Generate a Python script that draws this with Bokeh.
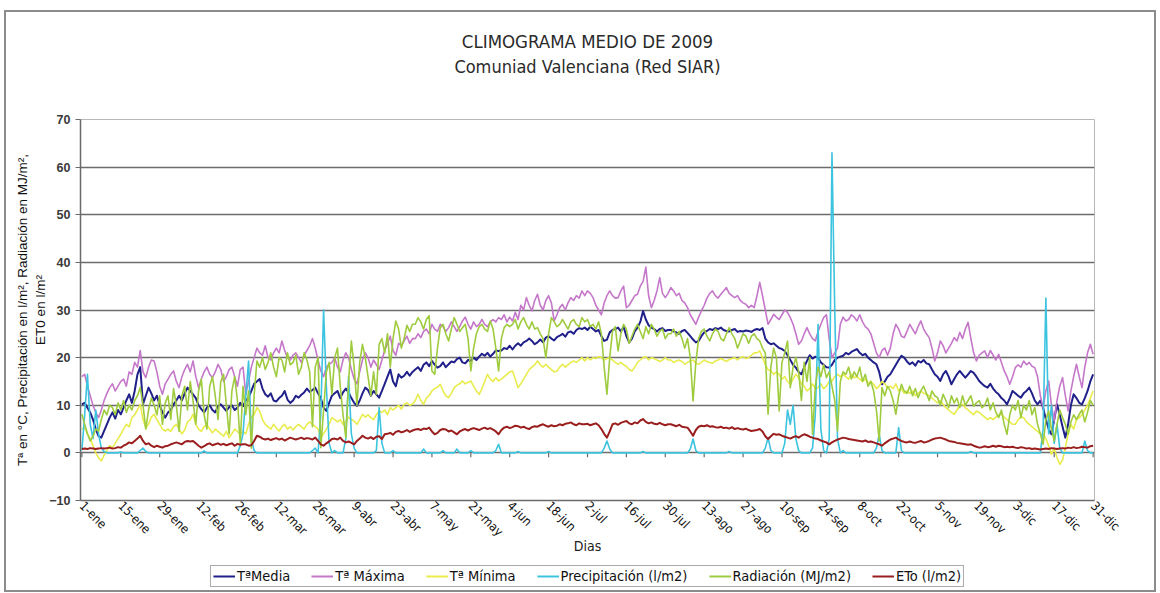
import math
from bokeh.plotting import figure
from bokeh.layouts import column
from bokeh.models import Range1d, FixedTicker, Legend, LegendItem, Title
from bokeh.embed import file_html
from bokeh.resources import INLINE

# ---------------- categories ----------------
month_names = ["ene", "feb", "mar", "abr", "may", "jun", "jul", "ago", "sep", "oct", "nov", "dic"]
month_days = [31, 28, 31, 30, 31, 30, 31, 31, 30, 31, 30, 31]
days = [f"{d}-{m}" for m, n in zip(month_names, month_days) for d in range(1, n + 1)]
tick_labels = ["1-ene", "15-ene", "29-ene", "12-feb", "26-feb", "12-mar", "26-mar", "9-abr", "23-abr",
               "7-may", "21-may", "4-jun", "18-jun", "2-jul", "16-jul", "30-jul", "13-ago", "27-ago",
               "10-sep", "24-sep", "8-oct", "22-oct", "5-nov", "19-nov", "3-dic", "17-dic", "31-dic"]

# ---------------- series (daily values) ----------------
t_media = (
    [10.2, 10.5, 9.5, 8.5, 7, 5, 3.5, 3.2, 4.6, 6, 7.4, 8.5, 7.2, 9, 8.1, 9.5, 11, 12.3, 10.5, 13, 16.5, 18, 10.2, 12, 13.7, 12.5, 11, 12, 10, 8.5, 7.4]
    + [8.5, 9, 10.2, 11, 12, 11, 12.5, 13.7, 13, 12.3, 11.5, 10, 9.2, 8.5, 9.5, 10, 9, 8.5, 9.8, 10.2, 9.5, 8.8, 9.6, 10, 9, 9.5, 10.5, 9.8]
    + [11, 11.6, 13, 14.5, 15, 15.5, 13.5, 12.3, 11.8, 12.5, 11, 10.8, 11.5, 12, 13, 11.2, 10.5, 11, 12, 11.6, 12.2, 12.7, 13.5, 12.8, 13.2, 13.7, 12.5, 11.5, 9.5, 8.8, 10.5]
    + [12, 12.5, 13, 11.5, 12.7, 13.5, 12.7, 11.5, 10.5, 9.9, 11, 12.5, 13.7, 13.2, 12, 13, 12.3, 11.6, 13, 14.5, 16, 17.5, 15, 14, 16.5, 15.8, 16.2, 17, 16.2, 17]
    + [17.5, 18, 17.2, 18.5, 19, 18.2, 19.3, 18.5, 17.9, 18.2, 19, 18, 18.6, 19.2, 19, 19.7, 20, 19, 18.8, 19.5, 19.3, 20, 19.5, 20.2, 20.8, 20.4, 21, 20.2, 20.8, 21.5, 21.4]
    + [21.5, 22, 21.8, 22.5, 21.7, 22.5, 23, 22.5, 23.2, 23.5, 24, 23.5, 22.8, 23.2, 23.8, 23.2, 24.2, 24.5, 24, 23.6, 24.3, 24.6, 25, 24.4, 25.3, 25.5, 25, 25.8, 26.2, 26]
    + [26.3, 25.8, 26.5, 26, 25.5, 25.8, 24.5, 23.5, 23.8, 25.3, 25.8, 26, 26.3, 25.5, 26.5, 24.5, 23.2, 24, 25.5, 26.3, 27.5, 29.8, 28, 26.8, 26.3, 26, 25.5, 26, 26.2, 25.6, 25.8]
    + [25.8, 25.5, 25.3, 25, 25.6, 25.8, 25.2, 24.5, 23.8, 23.2, 23.5, 24.5, 25.3, 25.6, 26, 25.8, 26.2, 26, 26.3, 25.8, 25.6, 25.5, 25.8, 26, 25.4, 25.6, 25.5, 25.7, 25.6, 25.4, 25.8]
    + [26, 25.8, 26.2, 24, 23.2, 22.8, 23, 22.5, 22, 21.8, 21.4, 20.5, 19.5, 18.5, 17.9, 17, 16.5, 18, 19.3, 20.5, 19.8, 20.2, 20, 19, 18.5, 18, 17.9, 18.5, 19.5, 20]
    + [20.2, 20.4, 21, 20.7, 21.2, 21.5, 21.8, 21, 20.5, 20.8, 20, 19.5, 19, 18.6, 17, 14.4, 15, 16, 16.5, 17.5, 18.5, 19.5, 20.4, 20, 19.2, 18.6, 19, 18.3, 19.3, 19, 19.5]
    + [18.8, 18.6, 17.5, 16.5, 16, 15.1, 16.5, 17.2, 16, 14.4, 15.5, 16.5, 17.2, 16.5, 15.8, 16.5, 17.2, 16.8, 16, 15.1, 14.5, 14, 13.7, 14.5, 13.5, 12.8, 12.3, 11.5, 11, 10.2]
    + [11.5, 13, 12.5, 12, 11.6, 12.5, 13, 13.7, 12.5, 11, 10.2, 11, 9.5, 7, 5, 3.9, 7, 10.2, 8, 5.5, 3.2, 6, 10, 12.3, 11.5, 10.5, 10.2, 11.5, 13, 15, 16.5]
)

t_maxima = (
    [16, 16.5, 14, 12, 10, 8.5, 7.4, 9, 11, 12.5, 13.7, 14.5, 13, 14, 15, 15.5, 14, 17, 16.5, 19, 18, 21.5, 17, 15.8, 18, 19.5, 19.3, 17, 14, 12.3, 14.5]
    + [15.5, 16.5, 17.2, 15, 13.7, 16, 17.5, 18.6, 17, 19.3, 16, 13.7, 15.5, 17, 18, 16.5, 15.8, 17, 18.6, 17.5, 15, 16, 17.5, 18, 16, 14, 17.5, 18]
    + [12.3, 15, 18, 20, 22, 21, 20.5, 22.5, 20, 19.5, 21, 22, 21, 23.5, 21.5, 20, 19.5, 20.5, 21, 20, 19, 20.5, 21.5, 22.5, 24, 22, 19.5, 17.2, 16, 18, 18.6]
    + [19, 20, 18, 17, 19.5, 21, 20, 17.5, 15.5, 14.5, 17, 19.5, 21, 20, 18, 19.5, 18.5, 17.5, 19.5, 21.5, 23, 24.5, 21.5, 20.5, 23, 22.5, 23.5, 24.5, 23, 24]
    + [24, 25, 24.2, 25.5, 26, 25, 27, 26, 25.5, 27, 26.5, 25.5, 26.3, 27.5, 26.5, 25.5, 26.5, 27.7, 28.5, 27, 26, 27.5, 26.5, 27, 28, 27, 26.5, 27.5, 28, 27.5, 28.4]
    + [28, 29, 27.5, 28.5, 27.7, 29.5, 28, 31, 30, 32.6, 31, 29.8, 32, 33.3, 31, 30, 32, 33, 31.5, 27.7, 29, 30.5, 31.2, 30, 31.5, 32.6, 32, 33, 32.5, 34]
    + [33, 34, 33.5, 32.6, 31, 30, 29, 31.5, 33, 34, 33, 32.5, 32.6, 34, 35, 30.5, 31, 32, 33, 33.3, 35, 36, 39, 33, 30.5, 32, 34, 36.8, 33.5, 32.6, 33.5]
    + [34.7, 34, 33, 33.5, 32, 31.5, 30.5, 29, 28, 27, 28.5, 29.8, 31, 32.5, 33.5, 34, 33, 32.5, 33.3, 34, 34.7, 33.5, 33, 32.6, 33, 32, 31.5, 31.2, 30.5, 31, 30.5]
    + [33, 35.8, 33, 30, 27, 28, 29.1, 28.5, 28, 29, 30, 29.5, 28.4, 27, 25, 22.8, 23.5, 25, 26.3, 25, 24, 23.5, 25.5, 27, 28.4, 29, 24, 20, 21, 22]
    + [27, 28.5, 27.7, 28, 29, 28.5, 27.7, 29, 27.5, 26.5, 26, 25, 23, 21, 20, 21.5, 22, 20.5, 22, 25, 27, 26, 24.5, 24.2, 25.5, 27, 26, 25, 26.5, 27.7, 26]
    + [25, 24.2, 22, 19.3, 21, 23.5, 22.5, 21, 22, 23, 24.2, 23.5, 25.3, 24, 26, 27.4, 24, 21, 19.3, 20.5, 21, 21.4, 20, 21.5, 20.5, 19.5, 20.7, 19, 17.2, 16]
    + [14.4, 16, 17.9, 18.5, 18, 19.3, 18.5, 19, 18.2, 17.9, 16, 12, 9.5, 13, 15.1, 10, 6.7, 11, 14, 15.8, 12, 8.8, 13, 16, 18.6, 16, 13.7, 18, 21, 22.8, 20.7]
)

t_minima = (
    [5, 5.3, 4, 3, 1.5, 0, -1, -1.7, -0.5, 0.5, 1.5, 1.1, 2, 3, 3.9, 5, 6, 5.5, 7.4, 8, 9, 10.2, 7, 5.3, 6, 7.5, 8.1, 7, 6, 5, 4.6]
    + [5, 4.5, 5.5, 6, 5, 4, 4.8, 6.5, 7, 8.1, 6, 5, 4.5, 5.5, 6, 5, 4.2, 5, 4.5, 4, 3.5, 4.5, 3.2, 4, 5, 4.5, 3.9, 4.5]
    + [4, 6, 7.5, 8, 9.5, 8.8, 7, 6, 5.5, 5, 6, 5.2, 4.6, 5.5, 6, 5, 5.5, 4.8, 5.5, 6, 5.5, 5, 6, 6.5, 6, 5.5, 5, 3.2, 4, 5, 6]
    + [7.4, 7, 6.5, 7, 6, 6.5, 7.5, 7, 6.7, 6, 7, 8.1, 7.5, 8, 7.4, 7, 8, 8.8, 8.5, 9, 8, 9.5, 9, 9.5, 10, 9.2, 10.2, 10.5, 10, 10.2]
    + [11, 12.3, 11, 10.2, 11.5, 12, 13, 13.5, 13.8, 14.4, 13, 12, 11.6, 12.5, 13.7, 14.2, 14.5, 15.1, 14.5, 14.8, 15.1, 14, 13, 12.3, 13.5, 15, 16.5, 15.5, 15, 15.8, 15.1]
    + [15.5, 16, 16.5, 17, 17.2, 15.5, 13.7, 14.5, 15.5, 16.5, 17.5, 18, 18.5, 19.3, 18.5, 18, 18.6, 18, 17.5, 17, 17.2, 18, 18.6, 18, 18.5, 19, 19.3, 19, 19.5, 20]
    + [19.3, 20, 19.5, 20, 19.8, 20.2, 20, 19.5, 19.8, 20, 19.5, 19, 18.6, 19, 18.5, 18.2, 17.5, 17.2, 18, 19, 19.5, 20, 20.2, 19.5, 20, 19.8, 19.5, 19.2, 19.5, 20, 19.5]
    + [19.5, 19, 19.3, 19.5, 19.2, 18.6, 19, 19.3, 19.5, 18.8, 18.6, 19, 19.5, 19.2, 19, 18.8, 19.3, 19.5, 19.8, 19.5, 19.2, 19.6, 19.8, 20, 19.5, 20, 20.2, 19.8, 20, 20.5, 21]
    + [21, 21.4, 20, 18.5, 17.5, 17.2, 16.5, 17, 16.5, 15.5, 16, 15, 14.4, 15.5, 16.5, 15.8, 14.5, 14, 13, 13.5, 14.5, 13.5, 13.7, 14.5, 13.5, 14, 15, 15.1, 16, 16.5]
    + [16, 16.5, 16, 15.5, 16.5, 15.8, 16, 15.5, 15, 15.5, 14.5, 15, 14.4, 13.5, 14, 15, 14.5, 13.7, 14, 13.5, 14.5, 13, 13.5, 12.5, 13, 12.5, 13, 12, 12.5, 13, 12.5]
    + [12.3, 12, 11.5, 11, 10.5, 11, 10.2, 9.5, 9, 8.5, 8.1, 9, 10, 10.2, 9.5, 9, 8.5, 8, 8.8, 8.5, 8, 7.5, 7, 7.4, 7, 7.5, 8, 8.1, 7.5, 7]
    + [6.5, 6, 6, 7, 7.5, 7.4, 6.5, 6, 5.5, 5, 4.5, 4, 3.9, 3, 1.5, -0.3, 1, -1, -2.4, -1.5, 1, 4, 6, 5, 7, 7.4, 8, 9, 10, 11.5, 13]
)

precipitacion = (
    [0.5, 8, 16.5, 6, 3, 9, 4, 1, 0.3, 0, 0, 0, 0, 0, 0.2, 0, 0, 0, 0, 0, 0, 0.5, 1, 0.3, 0, 0, 0, 0, 0, 0, 0]
    + [0, 0, 0, 0, 0, 0, 0, 0, 0, 0, 0, 0, 0, 0.4, 0, 0, 0, 0, 0, 0, 0, 0, 0, 0, 0, 0, 1.5, 4]
    + [12, 19.3, 3, 0.5, 0, 0, 0, 0, 0, 0, 0, 0, 0, 0, 0, 0, 0, 0, 0, 0, 0, 0, 0, 0, 0.5, 1, 0, 8, 30, 14, 2]
    + [0, 0.5, 0, 0, 0, 3, 16, 4, 1, 0, 0, 0, 0, 0, 0, 0, 0.5, 9.5, 2, 0, 0, 0, 0.5, 0, 0, 0, 0, 0, 0, 0]
    + [0, 0, 0, 0.8, 0, 0, 0, 0, 0, 0, 0.5, 0, 0, 0, 0, 0.8, 0, 0, 0, 0, 0.5, 0, 0, 0, 0, 0, 0, 0, 0, 0.5, 1.8]
    + [0, 0, 0, 0, 0, 0, 0.3, 0, 0, 0, 0, 0, 0, 0, 0, 0, 0, 0.3, 0, 0, 0, 0, 0, 0, 0, 0, 0, 0, 0, 0]
    + [0, 0, 0, 0, 0, 0, 0, 1, 2.5, 0.8, 0, 0, 0, 0, 0, 0, 0, 0, 0, 0, 0, 0.3, 0, 0, 0, 0, 0, 0, 0, 0, 0]
    + [0, 0, 0, 0, 0, 0, 0, 0.8, 2.9, 0.5, 0, 0, 0, 0, 0, 0, 0, 0, 0, 0, 0, 0.3, 0, 0, 0, 0, 0, 0, 0, 0, 0]
    + [0, 0, 0, 1, 3.2, 0.5, 0, 0, 0, 0, 2, 9, 6, 10, 3, 0.5, 0, 0, 0, 0, 1, 8, 27, 5, 0.5, 0, 3, 63, 30, 3]
    + [0, 0.5, 0, 0, 0, 0, 0, 0, 0, 0, 0, 0, 0, 1, 3.9, 0.5, 0, 0, 0, 0, 0, 5.3, 0.5, 0, 0, 0, 0, 0, 0, 0, 0]
    + [0, 0, 0, 0, 0, 0, 0, 0, 0, 0, 0, 0, 0, 0, 0, 0, 0.3, 0, 0, 0, 0, 0, 0, 0, 0, 0, 0, 0, 0, 0]
    + [0, 0, 0, 0, 0, 0, 0, 0, 0, 0, 0, 0, 5, 32.5, 4, 10, 2, 6, 1, 0, 0, 0, 0, 0, 0, 0, 0, 2.5, 0.5, 0, 0]
)

radiacion = (
    [8.1, 6, 4, 2.5, 3.5, 5, 4.6, 7, 9, 8, 10, 9.5, 8, 10.5, 9, 11, 8.5, 10, 9, 11, 12, 13.7, 10, 5, 9, 11.5, 10, 8, 12, 6, 10.5]
    + [12, 7, 13.5, 10, 4.5, 12, 14, 9, 15, 11, 6, 13, 15.5, 8, 5, 14, 16, 12, 7, 15, 16.5, 10, 4, 13, 16, 11, 2, 14]
    + [8, 13, 1, 12, 19.3, 18, 20, 17.5, 19, 21, 18, 16, 20, 19.5, 17, 21, 18.5, 19, 20.5, 16.5, 18, 21, 19.5, 17, 5.5, 18, 20, 1.1, 9, 17, 19]
    + [12.3, 20, 22, 14, 8, 3.2, 15, 23.5, 18, 10, 19, 22.8, 20, 16, 12, 17, 12.3, 22.8, 24, 21, 25, 18, 24, 27.7, 26, 22, 24, 26.8, 25.5, 27]
    + [27, 28.4, 27.5, 26, 28, 28.8, 17.2, 16.5, 22, 26.3, 27, 25, 23.5, 26, 28.4, 27, 25.5, 26.3, 27, 24, 17.2, 22, 25, 26.5, 27, 26, 25.5, 27.7, 26, 22, 17.2]
    + [24, 26.3, 27, 26.5, 27, 28, 26, 27.5, 28.4, 27, 26, 27.5, 26, 26.3, 25, 24, 20, 25, 28.4, 27.5, 26.5, 27, 28, 27, 26, 27.5, 28, 27, 26.5, 28.4]
    + [27.5, 28, 26.5, 27, 26, 27.5, 25, 18, 12.3, 20, 25.5, 26.5, 21.4, 25, 27, 26, 23, 24.5, 26, 27, 25.5, 24, 26.5, 25, 27, 26, 24.5, 25.5, 26, 24, 25]
    + [25, 26, 24.5, 25.5, 24, 22, 24, 20, 10.9, 19, 24, 25.5, 26, 24.5, 23.5, 25, 26, 25.5, 24, 23.5, 25, 26.3, 25, 24, 22, 23.5, 25, 24.5, 23, 24.5, 25]
    + [24, 23.5, 22, 21, 8.1, 18, 22, 20, 8.8, 19, 21, 23.5, 13.7, 18, 20, 17, 11, 19, 15, 20, 3.9, 14, 18, 16, 18.5, 15.8, 17, 14, 11, 4.6]
    + [15, 17, 16.5, 18, 15.5, 17, 16, 18, 15, 16.5, 14, 15, 13, 9, 2.5, 13.7, 12, 14, 13, 11, 8.1, 12, 14.4, 13, 12.5, 14, 12, 13.5, 11.6, 13, 14]
    + [12.5, 11, 13, 12, 11.6, 10, 12.3, 11, 9.5, 12, 10.5, 11.5, 9.5, 12, 10, 11, 12, 9.8, 10.5, 11, 9.5, 10, 11.5, 9, 10.5, 8.5, 7.4, 9, 6, 3.9]
    + [8, 10, 9, 11, 7.4, 10, 9, 11, 8, 9.5, 6, 4, 1.8, 7, 8.8, 5, 2.5, 6, 9, 7.4, 6, 3.9, 6.5, 8, 7, 8.1, 9, 6.5, 8.5, 11, 10]
)

eto = (
    [0.8, 0.9, 0.8, 1, 0.9, 0.8, 0.9, 1, 0.9, 1, 1.1, 0.9, 1, 1.2, 1.1, 1.5, 1.8, 2.2, 2, 2.5, 3, 3.6, 2.5, 1.8, 2, 1.5, 1.2, 1.5, 1.3, 1.1, 1.4]
    + [1.5, 1.8, 2, 2.2, 2, 1.8, 2.3, 2.5, 2.4, 2.5, 2, 1.5, 1.1, 1.4, 1.8, 2, 1.6, 1.8, 2, 1.7, 1.9, 1.6, 1.8, 2, 1.5, 1.9, 1.7, 1.8]
    + [1.8, 1.5, 1.6, 2.5, 3.6, 3.4, 3, 2.8, 3, 2.7, 2.9, 3.1, 2.8, 3, 2.6, 2.9, 3.2, 3, 2.8, 3, 3.2, 2.9, 3.1, 3, 2.8, 3.2, 2.5, 1.8, 1.5, 2, 2.4]
    + [2.9, 3, 2.8, 3.2, 2.5, 2.2, 2.4, 2.1, 1.8, 2.5, 3, 3.6, 3.2, 3, 3.3, 2.9, 3.4, 3.5, 2.9, 3.9, 4, 4.2, 3.8, 4.4, 4.6, 4.3, 4.5, 4.8, 4.4, 4.7]
    + [4.9, 5, 4.8, 5.1, 5, 5.3, 4.5, 3.9, 4.2, 4.8, 5, 4.9, 4.5, 4.7, 4.3, 3.9, 4.5, 4.8, 5, 4.7, 5, 5.2, 5, 4.8, 5.1, 5.3, 5, 5.2, 4.9, 4.5, 3.9]
    + [4.8, 5.3, 5.5, 5.2, 5.4, 5.7, 5.6, 5.3, 5.5, 5.2, 5, 5.4, 5.6, 5.5, 5.8, 6, 5.7, 5.5, 5.8, 5.6, 5.7, 6, 5.8, 6.1, 6.2, 6.4, 6, 5.8, 6.2, 6]
    + [6, 6.1, 5.8, 6, 6.2, 5.8, 5, 4, 3.2, 4.5, 6, 6.2, 5.9, 6.3, 6.5, 6.7, 6.2, 6, 6.4, 6.2, 6.8, 7.1, 6.5, 6.2, 6.4, 6.1, 6, 6.3, 6, 5.8, 6]
    + [6, 5.8, 5.6, 5.9, 5.5, 5.4, 5.3, 4.5, 3.6, 4.8, 5.5, 5.7, 5.6, 5.8, 5.5, 5.6, 5.4, 5.3, 5.5, 5.2, 5.3, 5.1, 5.4, 5, 5.2, 5, 4.9, 5.1, 4.8, 4.6, 4.7]
    + [4.8, 5, 4.5, 3.5, 2.9, 3.5, 4, 3.8, 3.9, 3.6, 3.4, 3.2, 3, 3.3, 3.5, 3.2, 3.6, 3.9, 3.7, 3.4, 3.2, 3, 2.9, 2.6, 2.4, 2.2, 1.8, 2.2, 2.5, 2.8]
    + [3, 3.2, 3.1, 2.9, 2.8, 2.7, 2.6, 2.5, 2.4, 2.6, 2.3, 2.4, 2.2, 2, 1.8, 1.5, 2, 2.4, 2.8, 3, 3.2, 2.8, 2.5, 2.3, 2.2, 2.4, 2.2, 2.1, 2.3, 2.5, 2.2]
    + [2.3, 2.5, 2.8, 3, 3.1, 3.2, 3, 2.8, 2.5, 2.4, 2.3, 2.1, 2, 1.9, 1.8, 1.7, 1.8, 1.5, 1.3, 1.1, 1.2, 1.4, 1.2, 1.3, 1.5, 1.3, 1.5, 1.4, 1.2, 1.3]
    + [1.2, 1.3, 1.1, 1, 1.2, 1.1, 0.9, 1, 0.8, 0.9, 0.8, 0.7, 0.8, 0.9, 0.8, 1, 0.9, 0.8, 0.9, 1, 0.9, 1.1, 1, 1.2, 1, 1.1, 1.3, 1.2, 1.1, 1.4, 1.5]
)

series_names = ["TªMedia", "Tª Máxima", "Tª Mínima", "Precipitación (l/m2)", "Radiación (MJ/m2)", "ETo (l/m2)"]
series_values = [t_media, t_maxima, t_minima, precipitacion, radiacion, eto]
series_colors = ["#20208a", "#c577c9", "#e9ec4c", "#3cc3df", "#9fcb3e", "#9a1e1e"]
series_widths = [2, 1.6, 1.6, 1.6, 1.6, 2]

lens = [len(v) for v in series_values]
if any(n != len(days) for n in lens):
    raise ValueError(f"length mismatch: {lens} vs {len(days)}")

x_idx = list(range(len(days)))
tick_pos = [days.index(t) for t in tick_labels]

NARROW = "'Liberation Sans Narrow', 'Arial Narrow', 'DejaVu Sans Condensed', sans-serif"
SANS = "'Liberation Sans', Arial, sans-serif"

W = 1148
p = figure(width=W, height=550, output_backend="svg", toolbar_location=None,
           x_range=Range1d(-0.5, len(days) - 0.5), y_range=Range1d(-10, 70),
           min_border_left=74, min_border_right=60, min_border_top=107, min_border_bottom=62,
           title="CLIMOGRAMA MEDIO DE 2009")

# title: line 1 is the figure title (outermost), line 2 and a spacer sit below it
p.title.align = "center"
p.title.text_font = NARROW
p.title.text_font_size = "18.5px"
p.title.text_font_style = "normal"
p.title.text_color = "#2a2a2a"
p.title.standoff = 2

spacer = Title(text=" ", text_font_size="1px", standoff=39)
subtitle = Title(text="Comuniad Valenciana (Red SIAR)", align="center", text_font=NARROW,
                 text_font_size="18px", text_font_style="normal", text_color="#2a2a2a", standoff=2)
p.add_layout(spacer, "above")
p.add_layout(subtitle, "above")

p.outline_line_color = "#b8b8b8"
p.background_fill_color = "white"
p.border_fill_color = "white"

# y axis
p.yaxis.ticker = FixedTicker(ticks=list(range(-10, 71, 10)))
p.yaxis.minor_tick_line_color = None
p.yaxis.major_tick_out = 5
p.yaxis.major_tick_in = 0
p.yaxis.axis_line_color = "#6a6a6a"
p.yaxis.axis_line_width = 1.5
p.yaxis.major_tick_line_color = "#6a6a6a"
p.yaxis.major_label_text_font = SANS
p.yaxis.major_label_text_font_size = "12.5px"
p.yaxis.major_label_text_font_style = "bold"
p.yaxis.major_label_text_color = "#3a3a3a"
p.yaxis.axis_label = "Tª en °C, Precipitación en l/m², Radiación en MJ/m²,\nET0 en l/m²"
p.yaxis.axis_label_text_font = SANS
p.yaxis.axis_label_text_font_size = "13.5px"
p.yaxis.axis_label_text_font_style = "normal"
p.yaxis.axis_label_text_color = "#111111"
p.yaxis.axis_label_standoff = -2

p.ygrid.ticker = FixedTicker(ticks=list(range(-10, 61, 10)))
p.ygrid.grid_line_color = "#6c6c6c"
p.ygrid.grid_line_width = 1.5
p.xgrid.visible = False

# x axis
p.xaxis.ticker = FixedTicker(ticks=tick_pos)
p.xaxis.major_label_overrides = {pos: lab for pos, lab in zip(tick_pos, tick_labels)}
p.xaxis.major_label_orientation = -math.pi / 4
p.xaxis.major_tick_out = 0
p.xaxis.major_tick_in = 0
p.xaxis.minor_tick_line_color = None
p.xaxis.axis_line_color = "#6a6a6a"
p.xaxis.axis_line_width = 1.5
p.xaxis.major_label_text_font = NARROW
p.xaxis.major_label_text_font_size = "12.5px"
p.xaxis.major_label_text_color = "#111111"
p.xaxis.major_label_standoff = 3
p.xaxis.axis_label = "Dias"
p.xaxis.axis_label_text_font = NARROW
p.xaxis.axis_label_text_font_size = "14px"
p.xaxis.axis_label_text_font_style = "normal"
p.xaxis.axis_label_text_color = "#222222"
p.xaxis.axis_label_standoff = -9

# category-axis tick marks sitting on the zero line
p.segment(x0=tick_pos, y0=[0] * len(tick_pos), x1=tick_pos, y1=[-0.9] * len(tick_pos),
          line_color="#6a6a6a", line_width=1.2)

for name, vals, col, w in zip(series_names, series_values, series_colors, series_widths):
    p.line(x_idx, vals, line_color=col, line_width=w, line_join="round")

# legend strip underneath the chart (same series styles; proxies hold the first value of each series)
leg = figure(width=W, height=28, output_backend="svg", toolbar_location=None,
             x_axis_location=None, y_axis_location=None,
             min_border_left=14, min_border_right=0, min_border_top=0, min_border_bottom=0)
leg.outline_line_color = None
leg.grid.visible = False
items = []
for name, vals, col, w in zip(series_names, series_values, series_colors, series_widths):
    r = leg.line(x=x_idx[:1], y=vals[:1], line_color=col, line_width=2)
    items.append(LegendItem(label=name, renderers=[r]))
legend = Legend(items=items, orientation="horizontal", location="center",
                border_line_color="#555555", border_line_width=1,
                background_fill_color="white", background_fill_alpha=1,
                label_text_font=NARROW, label_text_font_size="14.5px", label_text_color="#111111",
                glyph_width=22, glyph_height=10, label_standoff=2, spacing=21,
                padding=2, margin=0, label_height=14)
leg.add_layout(legend, "center")

layout = column(p, leg, spacing=0,
                styles={"border": "2px solid #8c8c8c", "margin-left": "4px", "margin-top": "10px"})

html = file_html(layout, INLINE, title="Climograma 2009")
open("out.html", "w").write(html)
